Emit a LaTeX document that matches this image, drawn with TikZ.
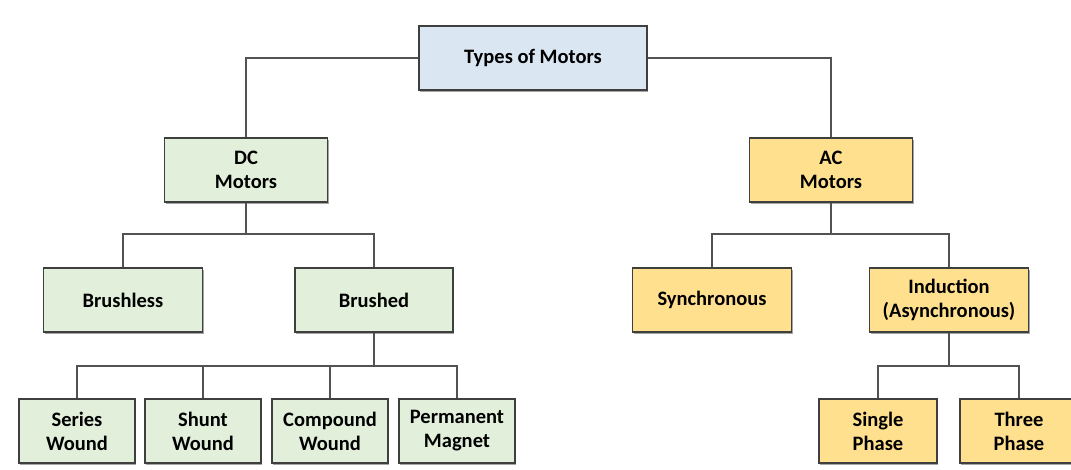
\documentclass[tikz,border=0pt]{standalone}
\usepackage{fontspec}
\setmainfont{Carlito}
\usetikzlibrary{shadows}
\definecolor{topblue}{HTML}{DAE6F2}
\definecolor{dcgreen}{HTML}{E2EFDA}
\definecolor{acyellow}{HTML}{FFE08E}
\definecolor{edge}{HTML}{3F3F3F}
\tikzset{
  box/.style={draw=edge, line width=1.1pt, align=center, inner sep=0pt,
    font=\bfseries\fontsize{20.5}{24}\selectfont, minimum height=64pt,
    drop shadow={shadow xshift=1.2pt, shadow yshift=-1.5pt, fill=black, opacity=0.35}},
  wire/.style={draw=edge!90, line width=1.4pt},
}
\begin{document}
\begin{tikzpicture}[x=1pt, y=-1pt]
\useasboundingbox[fill=white] (0,0) rectangle (1071,469);
% top
\node[box, fill=topblue, minimum width=228pt] (types) at (533,58) {Types of Motors};
% second row
\node[box, fill=dcgreen, minimum width=163pt] (dc) at (246,170) {DC\\Motors};
\node[box, fill=acyellow, minimum width=163pt] (ac) at (831,170) {AC\\Motors};
\draw[wire] (types.west) -| (dc);
\draw[wire] (types.east) -| (ac);
% third row
\node[box, fill=dcgreen, minimum width=159pt] (brushless) at (123,300) {Brushless};
\node[box, fill=dcgreen, minimum width=158pt] (brushed) at (374,300) {Brushed};
\node[box, fill=acyellow, minimum width=159pt] (sync) at (712,300) {Synchronous};
\node[box, fill=acyellow, minimum width=159pt] (induct) at (949,300) {Induction\\(Asynchronous)};
\coordinate (dcbus) at (246,234);
\coordinate (acbus) at (831,234);
\draw[wire] (dc) -- (dcbus);
\draw[wire] (brushless) |- (dcbus) -| (brushed);
\draw[wire] (ac) -- (acbus);
\draw[wire] (sync) |- (acbus) -| (induct);
% bottom row
\node[box, fill=dcgreen, minimum width=116pt] (series) at (77,431) {Series\\Wound};
\node[box, fill=dcgreen, minimum width=116pt] (shunt) at (203,431) {Shunt\\Wound};
\node[box, fill=dcgreen, minimum width=116pt] (compound) at (330,431) {Compound\\Wound};
\node[box, fill=dcgreen, minimum width=116pt] (permanent) at (457,431) {Permanent\\Magnet};
\node[box, fill=acyellow, minimum width=118pt] (single) at (878,431) {Single\\Phase};
\node[box, fill=acyellow, minimum width=118pt] (three) at (1019,431) {Three\\Phase};
\coordinate (brbus) at (374,366);
\coordinate (inbus) at (949,366);
\draw[wire] (brushed) -- (brbus);
\draw[wire] (series) |- (brbus) -| (permanent);
\draw[wire] (shunt) -- (shunt |- brbus);
\draw[wire] (compound) -- (compound |- brbus);
\draw[wire] (induct) -- (inbus);
\draw[wire] (single) |- (inbus) -| (three);
\end{tikzpicture}
\end{document}
